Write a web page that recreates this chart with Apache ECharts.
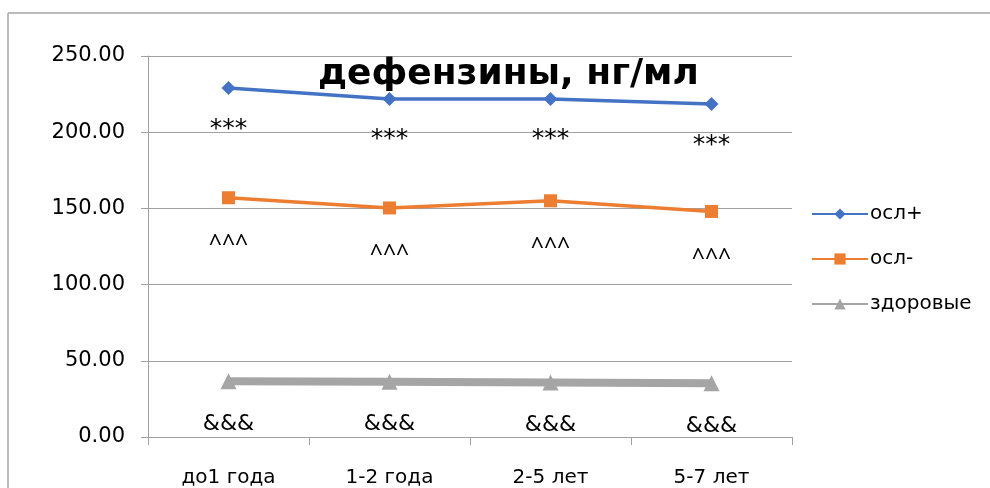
<!DOCTYPE html>
<html>
<head>
<meta charset="utf-8">
<script src="https://cdn.jsdelivr.net/npm/echarts@6/dist/echarts.min.js"></script>
<style>
html,body{margin:0;padding:0;background:#fff;overflow:hidden;}
#chart{width:990px;height:488px;}
</style>
</head>
<body>
<div id="chart"></div>
<script>
const categories = ['до1 года', '1-2 года', '2-5 лет', '5-7 лет'];
const oslPlus = [229.0, 221.8, 221.8, 218.5];
const oslMinus = [157.0, 150.3, 155.0, 148.0];
const healthy = [36.5, 36.3, 35.8, 35.2];
const oslPlusMarks = ['***', '***', '***', '***'];
const oslMinusMarks = ['^^^', '^^^', '^^^', '^^^'];
const healthyMarks = ['&&&', '&&&', '&&&', '&&&'];
const yTicks = [0, 50, 100, 150, 200, 250];
const seriesNames = ['осл+', 'осл-', 'здоровые'];
const titleText = 'дефензины, нг/мл';

const FONT = 'DejaVu Sans';
const chart = echarts.init(document.getElementById('chart'), null, {renderer: 'canvas'});

function markLabel(marks, offsetY, font, size) {
  return {
    show: true,
    position: 'inside',
    offset: [0, offsetY],
    formatter: p => marks[p.dataIndex],
    color: '#000',
    fontFamily: font,
    fontSize: size
  };
}

chart.setOption({
  animation: false,
  backgroundColor: '#fff',
  title: {
    text: titleText,
    left: 313,
    top: 52,
    textStyle: {fontFamily: FONT, fontSize: 36, fontWeight: 'bold', color: '#000'}
  },
  graphic: [
    {
      type: 'line',
      shape: {x1: 8, y1: 13, x2: 990, y2: 13},
      style: {stroke: '#a6a6a6', lineWidth: 1.5},
      silent: true
    },
    {
      type: 'line',
      shape: {x1: 8, y1: 13, x2: 8, y2: 488},
      style: {stroke: '#a6a6a6', lineWidth: 1.5},
      silent: true
    }
  ],
  legend: {
    orient: 'vertical',
    left: 806,
    top: 199,
    itemWidth: 56,
    itemHeight: 14,
    itemGap: 25,
    data: seriesNames,
    textStyle: {fontFamily: FONT, fontSize: 20, color: '#000', padding: [0, 0, 0, -3]}
  },
  grid: {left: 148, right: 198, top: 56, bottom: 50},
  xAxis: {
    type: 'category',
    data: categories,
    boundaryGap: true,
    axisLine: {lineStyle: {color: '#a0a0a0', width: 1}},
    axisTick: {show: true, length: 8, alignWithLabel: false, lineStyle: {color: '#a0a0a0'}},
    axisLabel: {fontFamily: FONT, fontSize: 20, color: '#000', margin: 31}
  },
  yAxis: {
    type: 'value',
    min: yTicks[0],
    max: yTicks[yTicks.length - 1],
    interval: 50,
    axisLine: {show: true, lineStyle: {color: '#a0a0a0', width: 1}},
    axisTick: {show: true, length: 7, lineStyle: {color: '#a0a0a0'}},
    splitLine: {lineStyle: {color: '#a0a0a0', width: 1}},
    axisLabel: {fontFamily: FONT, fontSize: 21, color: '#000', margin: 23, formatter: v => v.toFixed(2)}
  },
  series: [
    {
      name: seriesNames[0], type: 'line', data: oslPlus,
      symbol: 'diamond', symbolSize: 14,
      lineStyle: {color: '#4472C4', width: 3.5},
      itemStyle: {color: '#4472C4'},
      label: markLabel(oslPlusMarks, 41, FONT, 25)
    },
    {
      name: seriesNames[1], type: 'line', data: oslMinus,
      symbol: 'rect', symbolSize: 13,
      lineStyle: {color: '#ED7D31', width: 3.5},
      itemStyle: {color: '#ED7D31'},
      label: markLabel(oslMinusMarks, 47, 'Noto Sans', 23)
    },
    {
      name: seriesNames[2], type: 'line', data: healthy,
      symbol: 'triangle', symbolSize: 16,
      lineStyle: {color: '#A5A5A5', width: 8},
      itemStyle: {color: '#A5A5A5'},
      label: markLabel(healthyMarks, 43, FONT, 22)
    }
  ]
});
</script>
</body>
</html>
